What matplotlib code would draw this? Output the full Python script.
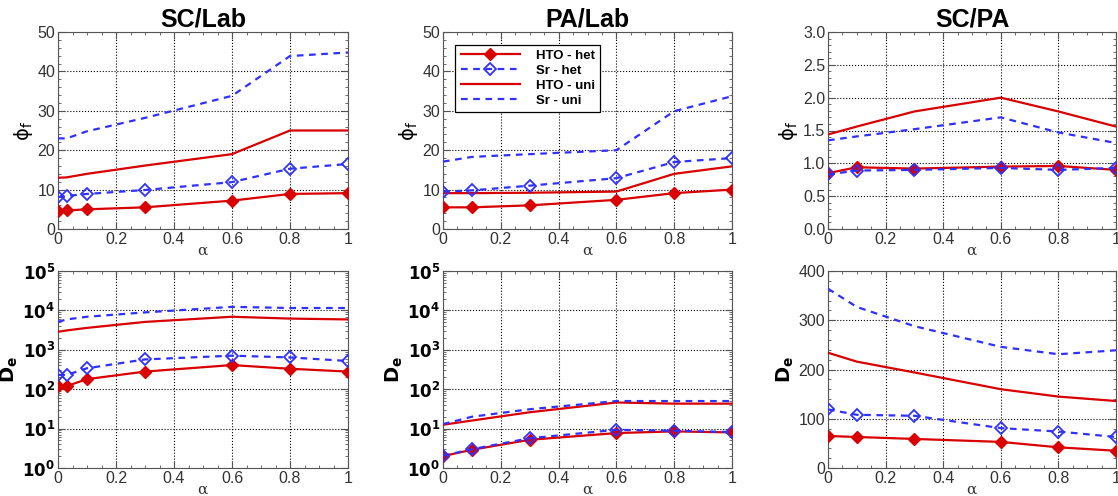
import math
import matplotlib
matplotlib.use("Agg")
import matplotlib.pyplot as plt
from matplotlib.ticker import MultipleLocator, LogLocator, NullFormatter

plt.rcParams['font.family'] = ['Liberation Sans', 'DejaVu Sans']
plt.rcParams['mathtext.fontset'] = 'dejavusans'

# ---------------- data ----------------
titles = ["SC/Lab", "PA/Lab", "SC/PA"]

# x values
x_sclab = [0, 0.03, 0.1, 0.3, 0.6, 0.8, 1.0]
x_pa = [0, 0.1, 0.3, 0.6, 0.8, 1.0]

# phi_f (top row)
phi_sclab_hto_het = [4.6, 4.7, 5.0, 5.5, 7.2, 8.9, 9.1]
phi_sclab_sr_het = [8.1, 8.4, 8.9, 9.9, 11.9, 15.3, 16.5]
phi_sclab_hto_uni = [13.0, 13.1, 14.0, 16.1, 19.0, 25.0, 25.0]
phi_sclab_sr_uni = [23.0, 23.0, 24.8, 28.2, 33.8, 43.9, 44.8]

phi_palab_hto_het = [5.5, 5.5, 6.0, 7.4, 9.1, 10.0]
phi_palab_sr_het = [9.5, 9.8, 11.0, 12.9, 17.0, 18.0]
phi_palab_hto_uni = [9.1, 9.1, 9.2, 9.5, 14.0, 15.9]
phi_palab_sr_uni = [17.1, 18.3, 19.0, 20.0, 29.9, 33.7]

phi_scpa_hto_het = [0.85, 0.94, 0.92, 0.95, 0.96, 0.90]
phi_scpa_sr_het = [0.83, 0.89, 0.90, 0.93, 0.90, 0.93]
phi_scpa_hto_uni = [1.44, 1.56, 1.79, 2.00, 1.79, 1.56]
phi_scpa_sr_uni = [1.35, 1.41, 1.52, 1.70, 1.47, 1.31]

# D_e (bottom row)
de_sclab_hto_het = [120, 120, 180, 280, 410, 330, 280]
de_sclab_sr_het = [230, 230, 340, 570, 710, 640, 520]
de_sclab_hto_uni = [2870, 3100, 3600, 5100, 6900, 6200, 5900]
de_sclab_sr_uni = [5100, 5900, 6900, 8900, 12300, 11500, 11500]

de_palab_hto_het = [2.0, 2.9, 5.2, 7.7, 8.5, 8.0]
de_palab_sr_het = [2.05, 3.0, 5.7, 9.3, 8.8, 8.2]
de_palab_hto_uni = [12.5, 16, 26, 46, 43, 43]
de_palab_sr_uni = [13, 20, 31, 50, 50, 50]

de_scpa_hto_het = [65, 63, 59, 53, 42, 35]
de_scpa_sr_het = [119, 108, 106, 81, 74, 63]
de_scpa_hto_uni = [234, 216, 194, 160, 145, 136]
de_scpa_sr_uni = [364, 327, 288, 246, 231, 239]

legend_labels = ["HTO - het", "Sr - het", "HTO - uni", "Sr - uni"]

RED = "#d80000"
BLUE = "#3030ff"
TICKC = "#333333"

fig = plt.figure(figsize=(11.18, 4.96), dpi=100)

lefts = [58 / 1118, 443 / 1118, 828 / 1118]
widths = [290 / 1118, 289 / 1118, 288 / 1118]
top_b = 1 - 229 / 496
bot_b = 1 - 468 / 496
h = 197 / 496

top_data = [
    (x_sclab, phi_sclab_hto_het, phi_sclab_sr_het, phi_sclab_hto_uni, phi_sclab_sr_uni),
    (x_pa, phi_palab_hto_het, phi_palab_sr_het, phi_palab_hto_uni, phi_palab_sr_uni),
    (x_pa, phi_scpa_hto_het, phi_scpa_sr_het, phi_scpa_hto_uni, phi_scpa_sr_uni),
]
bot_data = [
    (x_sclab, de_sclab_hto_het, de_sclab_sr_het, de_sclab_hto_uni, de_sclab_sr_uni),
    (x_pa, de_palab_hto_het, de_palab_sr_het, de_palab_hto_uni, de_palab_sr_uni),
    (x_pa, de_scpa_hto_het, de_scpa_sr_het, de_scpa_hto_uni, de_scpa_sr_uni),
]


def xfmt(v, p):
    if abs(v) < 1e-9:
        return "0"
    if abs(v - 1) < 1e-9:
        return "1"
    return f"{v:.1f}"


def draw(ax, d):
    x, hh, sh, hu, su = d
    l1, = ax.plot(x, hh, color=RED, lw=1.6, marker='D', ms=6, mfc=RED, mec=RED, zorder=4)
    l2, = ax.plot(x, sh, color=BLUE, lw=1.6, ls=(0, (3, 2.5)), marker='D', ms=6.5,
                  mfc='none', mec=BLUE, mew=1.3, zorder=4)
    l3, = ax.plot(x, hu, color=RED, lw=1.6, zorder=3)
    l4, = ax.plot(x, su, color=BLUE, lw=1.6, ls=(0, (3, 2.5)), zorder=3)
    return [l1, l2, l3, l4]


def style(ax):
    ax.set_xlim(0, 1)
    ax.xaxis.set_major_locator(MultipleLocator(0.2))
    ax.xaxis.set_minor_locator(MultipleLocator(0.05))
    ax.xaxis.set_major_formatter(plt.FuncFormatter(xfmt))
    ax.grid(True, which='major', color='black', ls=':', lw=0.8)
    ax.tick_params(which='both', direction='in', top=True, right=True, color='#555555')
    ax.tick_params(which='major', length=5, labelsize=11.5, labelcolor=TICKC, pad=2)
    ax.tick_params(which='minor', length=2.5)
    for s in ax.spines.values():
        s.set_color('#555555')
        s.set_linewidth(0.8)
    ax.set_xlabel(r'$\mathregular{α}$', fontsize=11, color=TICKC, labelpad=-2,
                  family=['DejaVu Serif'])


for i in range(3):
    ax = fig.add_axes([lefts[i], top_b, widths[i], h])
    lines = draw(ax, top_data[i])
    style(ax)
    if i < 2:
        ax.set_ylim(0, 50)
        ax.yaxis.set_major_locator(MultipleLocator(10))
        ax.yaxis.set_minor_locator(MultipleLocator(2))
    else:
        ax.set_ylim(0, 3)
        ax.yaxis.set_major_locator(MultipleLocator(0.5))
        ax.yaxis.set_minor_locator(MultipleLocator(0.1))
        ax.yaxis.set_major_formatter(plt.FormatStrFormatter('%.1f'))
    ax.set_ylabel(r'$\mathregular{ϕ_f}$', fontsize=14, labelpad=2,
                  family=['DejaVu Sans'])
    ax.set_title(titles[i], fontsize=18, fontweight='bold', pad=4)
    if i == 1:
        leg = ax.legend(lines, legend_labels, loc='upper left', bbox_to_anchor=(0.02, 0.97),
                        prop={'weight': 'bold', 'size': 9.5}, fancybox=False,
                        edgecolor='black', framealpha=1, handlelength=4.5,
                        borderpad=0.4, labelspacing=0.2, handletextpad=1.2)
        leg.get_frame().set_linewidth(0.9)

for i in range(3):
    ax = fig.add_axes([lefts[i], bot_b, widths[i], h])
    draw(ax, bot_data[i])
    style(ax)
    if i < 2:
        ax.set_yscale('log')
        ax.set_ylim(1, 1e5)
        ax.yaxis.set_major_locator(LogLocator(base=10, numticks=10))
        ax.yaxis.set_minor_locator(LogLocator(base=10, subs=range(2, 10), numticks=10))
        ax.yaxis.set_minor_formatter(NullFormatter())
        ax.tick_params(axis='y', which='major', labelsize=12, labelcolor='black')
        ax.yaxis.set_major_formatter(plt.FuncFormatter(
            lambda v, p: r'$\mathbf{10^{%d}}$' % round(math.log10(v))))
    else:
        ax.set_ylim(0, 400)
        ax.yaxis.set_major_locator(MultipleLocator(100))
        ax.yaxis.set_minor_locator(MultipleLocator(20))
    ax.set_ylabel(r'$\mathbf{D_e}$', fontsize=14, labelpad=2)

fig.savefig("out.png", dpi=100)
